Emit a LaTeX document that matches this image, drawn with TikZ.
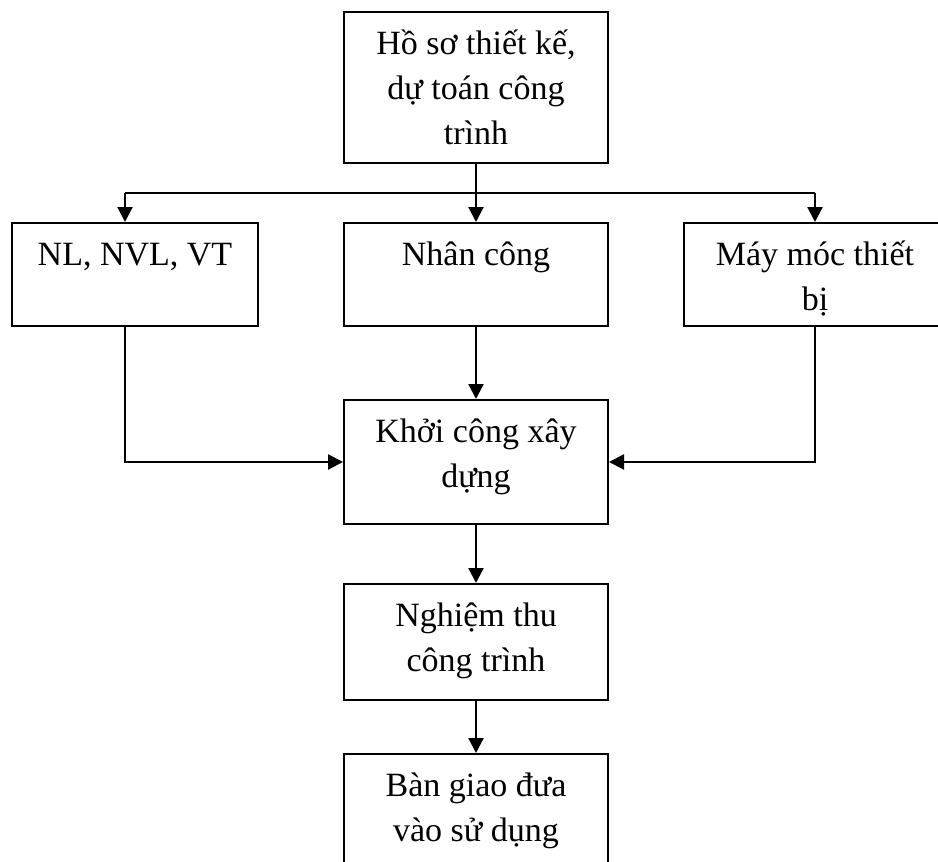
\documentclass[tikz,border=0pt]{standalone}
\usepackage{fontspec}
\setmainfont{Liberation Serif}
\usetikzlibrary{arrows.meta}

% text block of a box: fixed size, lines set from the top
\newcommand\boxbody[3]{\parbox[c][#2][t]{#1}{\centering\fontsize{17pt}{22.5pt}\selectfont\rule{0pt}{21pt}#3\par}}

\begin{document}
\begin{tikzpicture}[x=0.5pt,y=-0.5pt,
  box/.style={draw, line width=1pt, inner sep=0pt, anchor=north west},
  arr/.style={line width=1.1pt, -{Triangle[length=7.5pt,width=7.5pt]}},
  wire/.style={line width=1.1pt}]
\useasboundingbox (0,0) rectangle (938,862);
\clip (0,0) rectangle (938,862);

% boxes
\node[box] (hs) at (343,11)  {\boxbody{132pt}{75.5pt}{Hồ sơ thiết kế,\\ dự toán công\\ trình}};
\node[box] (nl) at (11,222)  {\boxbody{123pt}{51.5pt}{NL, NVL, VT}};
\node[box] (nc) at (343,222) {\boxbody{132pt}{51.5pt}{Nhân công}};
\node[box] (mm) at (683,222) {\boxbody{131pt}{51.5pt}{Máy móc thiết\\ bị}};
\node[box] (kc) at (343,399) {\boxbody{132pt}{62pt}{Khởi công xây\\ dựng}};
\node[box] (nt) at (343,583) {\boxbody{132pt}{58pt}{Nghiệm thu\\ công trình}};
\node[box] (bg) at (343,753) {\boxbody{132pt}{58pt}{Bàn giao đưa\\ vào sử dụng}};

% distribution line under the top box
\coordinate (busL) at (125,193);
\coordinate (busR) at (815,193);
\draw[wire] (busL) -- (busR);
\draw[arr] (hs.south) -- (nc.north);
\draw[arr] (busL) -- (busL |- nl.north);
\draw[arr] (busR) -- (busR |- mm.north);

% inputs into construction
\draw[arr] (busL |- nl.south) |- (kc.west);
\draw[arr] (nc.south) -- (kc.north);
\draw[arr] (busR |- mm.south) |- (kc.east);

% main sequence
\draw[arr] (kc.south) -- (nt.north);
\draw[arr] (nt.south) -- (bg.north);
\end{tikzpicture}
\end{document}
